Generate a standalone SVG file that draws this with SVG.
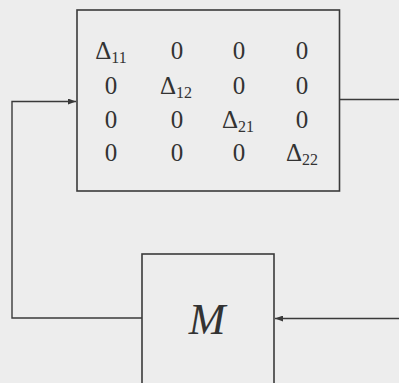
<svg xmlns="http://www.w3.org/2000/svg" width="399" height="383" viewBox="0 0 399 383">
<style>
.box{fill:none;stroke:#3a3a3a;stroke-width:1.6}
.wire{fill:none;stroke:#3a3a3a;stroke-width:1.4}
.m{font-family:"Liberation Serif",serif;font-size:25px;fill:#333;text-anchor:middle}
.s{font-size:16px}
.big{font-family:"Liberation Serif",serif;font-style:italic;font-size:44px;fill:#333;text-anchor:middle}
</style>
<defs>
<marker id="ah" markerWidth="8" markerHeight="6" refX="8" refY="3" orient="auto" markerUnits="userSpaceOnUse">
<path d="M0,0 L8,3 L0,6 Z" fill="#3a3a3a"/>
</marker>
</defs>
<rect width="399" height="383" fill="#ededed"/>
<g id="connectors">
<path class="wire" d="M142,318 H12 V101.5 H76" marker-end="url(#ah)"/>
<path class="wire" d="M340,99.5 H399"/>
<path class="wire" d="M399,318.5 H275" marker-end="url(#ah)"/>
</g>
<g id="delta">
<rect class="box" x="77" y="10" width="262.5" height="181"/>
<text class="m" x="111" y="59">Δ<tspan class="s" dy="4">11</tspan></text>
<text class="m" x="177" y="59">0</text>
<text class="m" x="239" y="59">0</text>
<text class="m" x="302" y="59">0</text>
<text class="m" x="111" y="94">0</text>
<text class="m" x="176" y="94">Δ<tspan class="s" dy="4">12</tspan></text>
<text class="m" x="239" y="94">0</text>
<text class="m" x="302" y="94">0</text>
<text class="m" x="111" y="128">0</text>
<text class="m" x="177" y="128">0</text>
<text class="m" x="238" y="128">Δ<tspan class="s" dy="4">21</tspan></text>
<text class="m" x="302" y="128">0</text>
<text class="m" x="111" y="161">0</text>
<text class="m" x="177" y="161">0</text>
<text class="m" x="239" y="161">0</text>
<text class="m" x="302" y="161">Δ<tspan class="s" dy="4">22</tspan></text>
</g>
<g id="M">
<rect class="box" x="142" y="254" width="132" height="140"/>
<text class="big" x="207" y="334">M</text>
</g>
</svg>
